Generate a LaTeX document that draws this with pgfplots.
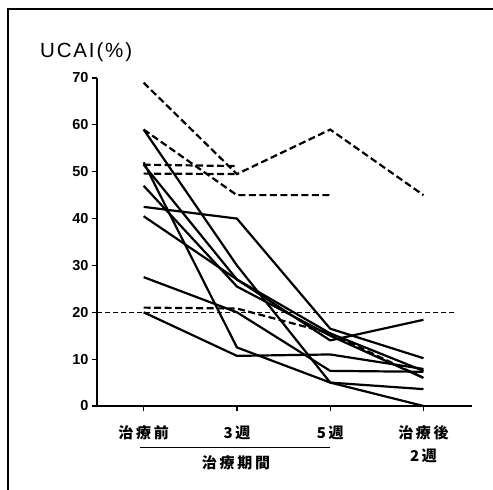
\documentclass[border=0pt]{standalone}
\usepackage{fontspec}
\setmainfont{Liberation Sans}
\newfontfamily\cjk[LetterSpace=18]{Noto Sans CJK JP}
\newfontfamily\wide[LetterSpace=9]{Liberation Sans}
\usepackage{pgfplots}
\pgfplotsset{compat=1.18}

\begin{document}
\begin{tikzpicture}
\useasboundingbox (0pt,0pt) rectangle (493pt,-490pt);
% frame of the scanned figure
\draw[line width=1.4pt] (8pt,-490pt) -- (8pt,-9pt) -- (493pt,-9pt);
\node[anchor=base west, inner sep=0pt] at (40pt,-57pt) {\fontsize{20.5pt}{21pt}\selectfont\wide UCAI(\%)};
\begin{axis}[
  at={(97pt,-406pt)}, anchor=south west,
  scale only axis, width=375pt, height=328pt,
  xmin=-0.5, xmax=3.52, ymin=0, ymax=70,
  axis x line=bottom, axis y line=left,
  axis line style={-, line width=1.2pt},
  xtick={0,1,2,3},
  xticklabels={治療前, 3週, 5週, 治療後\\2週},
  ytick={0,10,...,70},
  tick align=outside, major tick length=5pt,
  tick style={line width=1.2pt, black},
  yticklabel style={font=\fontsize{14.5pt}{14.5pt}\selectfont\bfseries},
  /pgf/number format/assume math mode=true,
  xticklabel style={font=\fontsize{15pt}{23pt}\selectfont\cjk\bfseries, align=center, yshift=-11pt},
  clip=false,
  solid line/.style={black, line width=2.2pt, line join=round, mark=none},
  dash line/.style={black, line width=2.2pt, dash pattern=on 7pt off 3.5pt, mark=none},
]
% solid lines: individual patients
\addplot[solid line] coordinates {(0,59) (1,30) (2,5) (3,3.6)};
\addplot[solid line] coordinates {(0,52) (1,12.5) (2,5) (3,0)};
\addplot[solid line] coordinates {(0,51.5) (1,27) (2,14) (3,18.4)};
\addplot[solid line] coordinates {(0,47) (1,25.5) (2,15) (3,6)};
\addplot[solid line] coordinates {(0,42.5) (1,40) (2,16.5) (3,10.2)};
\addplot[solid line] coordinates {(0,40.5) (1,27) (2,15.5) (3,7.5)};
\addplot[solid line] coordinates {(0,27.5) (1,20) (2,7.5) (3,7.3)};
\addplot[solid line] coordinates {(0,20) (1,10.7) (2,11) (3,7.9)};
% dashed lines
\addplot[dash line] coordinates {(0,69) (1,49.5) (2,59) (3,45)};
\addplot[dash line] coordinates {(0,59) (1,45) (2,45)};
\addplot[dash line] coordinates {(0,51.5) (1,51.2)};
\addplot[dash line] coordinates {(0,49.6) (1,49.5)};
\addplot[dash line] coordinates {(0,21) (1,20.8) (2,15.5) (3,6)};
% threshold
\addplot[black, line width=0.9pt, dash pattern=on 5pt off 3pt] coordinates {(-0.5,20) (3.34,20)};
\end{axis}
\draw[line width=1.2pt] (140pt,-447.7pt) -- (330pt,-447.7pt);
\node[font=\fontsize{15pt}{18pt}\selectfont\cjk\bfseries] at (236pt,-462.7pt) {治療期間};
\end{tikzpicture}
\end{document}
